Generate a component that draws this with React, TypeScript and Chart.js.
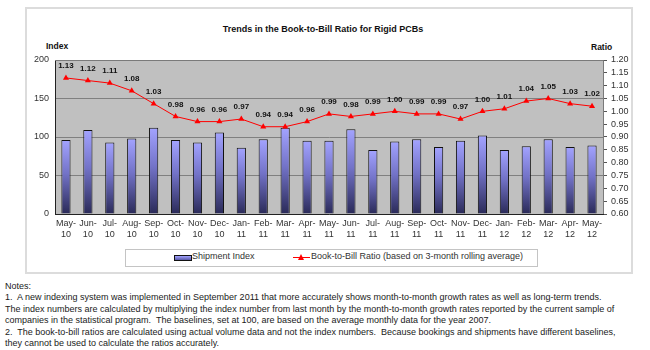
import React, { useEffect, useRef } from "react";
import { Chart, registerables } from "chart.js";

Chart.register(...registerables);

const months = ["May-10","Jun-10","Jul-10","Aug-10","Sep-10","Oct-10","Nov-10","Dec-10","Jan-11","Feb-11","Mar-11","Apr-11","May-11","Jun-11","Jul-11","Aug-11","Sep-11","Oct-11","Nov-11","Dec-11","Jan-12","Feb-12","Mar-12","Apr-12","May-12"];
const shipmentIndex = [96, 109, 93, 98, 112, 96, 93, 106, 86, 97, 112, 95, 95, 110, 83, 94, 97, 87, 95, 102, 83, 88, 97, 87, 89];
const bookToBill = [1.13, 1.12, 1.11, 1.08, 1.03, 0.98, 0.96, 0.96, 0.97, 0.94, 0.94, 0.96, 0.99, 0.98, 0.99, 1.00, 0.99, 0.99, 0.97, 1.00, 1.01, 1.04, 1.05, 1.03, 1.02];
const indexTicks = [0, 50, 100, 150, 200];
const ratioTicks = [0.6, 0.65, 0.7, 0.75, 0.8, 0.85, 0.9, 0.95, 1.0, 1.05, 1.1, 1.15, 1.2];

const FONT = "'Liberation Sans', Arial, sans-serif";

const plotBg = {
  id: "plotBg",
  beforeDraw(chart: any) {
    const { ctx, chartArea: a } = chart;
    if (!a) return;
    ctx.save();
    ctx.fillStyle = "#c0c0c0";
    ctx.fillRect(a.left, a.top, a.right - a.left, a.bottom - a.top);
    ctx.restore();
  },
  afterDraw(chart: any) {
    const { ctx, chartArea: a } = chart;
    if (!a) return;
    ctx.save();
    ctx.strokeStyle = "#7a7a7a";
    ctx.lineWidth = 1;
    ctx.beginPath();
    ctx.moveTo(a.left, a.top + 0.5);
    ctx.lineTo(a.right + 0.5, a.top + 0.5);
    ctx.lineTo(a.right + 0.5, a.bottom);
    ctx.stroke();
    ctx.restore();
  },
};

const pointLabels = {
  id: "pointLabels",
  afterDatasetsDraw(chart: any) {
    const { ctx } = chart;
    const meta = chart.getDatasetMeta(0);
    ctx.save();
    ctx.font = `bold 8px ${FONT}`;
    ctx.fillStyle = "#111";
    ctx.textAlign = "center";
    ctx.textBaseline = "middle";
    meta.data.forEach((p: any, i: number) => {
      ctx.fillText(bookToBill[i].toFixed(2), p.x, p.y - 12);
    });
    ctx.restore();
  },
};

function barGradient(context: any) {
  const chart = context.chart;
  const ys = chart.scales && chart.scales.y;
  if (!chart.chartArea || !ys || context.dataIndex === undefined) return "#7777cc";
  const v = shipmentIndex[context.dataIndex];
  const top = ys.getPixelForValue(v);
  const bottom = ys.getPixelForValue(0);
  const g = chart.ctx.createLinearGradient(0, top, 0, bottom);
  g.addColorStop(0, "#a3a3ff");
  g.addColorStop(0.45, "#7373c8");
  g.addColorStop(1, "#2a2a58");
  return g;
}

function ChartView() {
  const ref = useRef<HTMLCanvasElement | null>(null);
  useEffect(() => {
    if (!ref.current) return;
    const chart = new Chart(ref.current, {
      type: "bar",
      data: {
        labels: months.map((m) => {
          const [a, b] = m.split("-");
          return [a + "-", b];
        }),
        datasets: [
          {
            type: "line",
            label: "Book-to-Bill Ratio (based on 3-month rolling average)",
            data: bookToBill,
            yAxisID: "y1",
            borderColor: "#ff0000",
            backgroundColor: "#ff0000",
            borderWidth: 1,
            pointStyle: "triangle",
            pointRadius: 3.5,
            pointBorderWidth: 0,
            tension: 0,
            order: 0,
          } as any,
          {
            type: "bar",
            label: "Shipment Index",
            data: shipmentIndex,
            yAxisID: "y",
            backgroundColor: barGradient,
            borderColor: "#111",
            borderWidth: 1,
            barPercentage: 0.42,
            categoryPercentage: 1,
            order: 1,
          } as any,
        ],
      },
      options: {
        animation: false,
        responsive: false,
        maintainAspectRatio: false,
        layout: { padding: { top: 20, left: 0, right: 0, bottom: 0 } },
        plugins: {
          legend: { display: false },
          title: { display: false },
          tooltip: { enabled: false },
        },
        scales: {
          x: {
            grid: { display: false, drawTicks: false },
            border: { display: true, color: "#222", width: 1 },
            ticks: {
              font: { family: FONT, size: 9 },
              color: "#333",
              maxRotation: 0,
              autoSkip: false,
              padding: 4,
            },
            afterFit: (s: any) => { s.height = 26; },
          },
          y: {
            position: "left",
            min: 0,
            max: 200,
            afterBuildTicks: (s: any) => { s.ticks = indexTicks.map((v) => ({ value: v })); },
            grid: { color: "#808080", drawTicks: false, lineWidth: 1 },
            border: { display: true, color: "#222", width: 1 },
            ticks: {
              font: { family: FONT, size: 9 },
              color: "#333",
              padding: 6,
              autoSkip: false,
            },
            afterFit: (s: any) => { s.width = 55; },
          },
          y1: {
            position: "right",
            min: 0.6,
            max: 1.2,
            afterBuildTicks: (s: any) => { s.ticks = ratioTicks.map((v) => ({ value: v })); },
            grid: { drawOnChartArea: false, drawTicks: true, tickLength: 4, color: "#555" },
            border: { display: false },
            ticks: {
              font: { family: FONT, size: 9 },
              color: "#333",
              padding: 4,
              autoSkip: false,
              callback: (v: any) => Number(v).toFixed(2),
            },
            afterFit: (s: any) => { s.width = 47; },
          },
        },
      },
      plugins: [plotBg, pointLabels],
    } as any);
    return () => chart.destroy();
  }, []);
  return (
    <canvas
      ref={ref}
      width={650}
      height={200}
      style={{ position: "absolute", left: 0, top: 40, width: 650, height: 200 }}
    />
  );
}

export default function App() {
  const txt: React.CSSProperties = { position: "absolute", fontFamily: FONT, color: "#111", whiteSpace: "nowrap" };
  return (
    <div style={{ position: "absolute", left: 0, top: 0, width: 650, height: 350, background: "#fff", overflow: "hidden" }}>
      <div style={{ position: "absolute", left: 25, top: 7, width: 604, height: 263, border: "2px solid #dcdcdc", background: "#fff" }} />
      <div style={{ ...txt, left: 0, width: 646, top: 24, textAlign: "center", fontWeight: "bold", fontSize: 9 }}>
        Trends in the Book-to-Bill Ratio for Rigid PCBs
      </div>
      <div style={{ ...txt, left: 46, top: 41, fontWeight: "bold", fontSize: 8.5 }}>Index</div>
      <div style={{ ...txt, left: 591, top: 42, fontWeight: "bold", fontSize: 8.5 }}>Ratio</div>
      <ChartView />
      <div style={{ position: "absolute", left: 125, top: 249, width: 411, height: 16, border: "1px solid #c4c4c4", background: "#fff" }} />
      <div style={{ position: "absolute", left: 174, top: 255, width: 16, height: 4, border: "1px solid #111", background: "linear-gradient(#a3a3ff, #5a5aa8)" }} />
      <div style={{ ...txt, left: 192, top: 251, fontSize: 9, color: "#333" }}>Shipment Index</div>
      <div style={{ position: "absolute", left: 293, top: 257, width: 17, height: 1, background: "#ff0000" }} />
      <div style={{ position: "absolute", left: 298, top: 254, width: 0, height: 0, borderLeft: "3.5px solid transparent", borderRight: "3.5px solid transparent", borderBottom: "6px solid #ff0000" }} />
      <div style={{ ...txt, left: 311, top: 251, fontSize: 9, color: "#333" }}>Book-to-Bill Ratio (based on 3-month rolling average)</div>
      <div style={{ position: "absolute", left: 5, top: 281, fontFamily: FONT, fontSize: 9, lineHeight: "11.4px", color: "#1a1a1a" }}>
        <div>Notes:</div>
        <div>1.&nbsp; A new indexing system was implemented in September 2011 that more accurately shows month-to-month growth rates as well as long-term trends.</div>
        <div>The index numbers are calculated by multiplying the index number from last month by the month-to-month growth rates reported by the current sample of</div>
        <div>companies in the statistical program.&nbsp; The baselines, set at 100, are based on the average monthly data for the year 2007.</div>
        <div>2.&nbsp; The book-to-bill ratios are calculated using actual volume data and not the index numbers.&nbsp; Because bookings and shipments have different baselines,</div>
        <div>they cannot be used to calculate the ratios accurately.</div>
      </div>
    </div>
  );
}
